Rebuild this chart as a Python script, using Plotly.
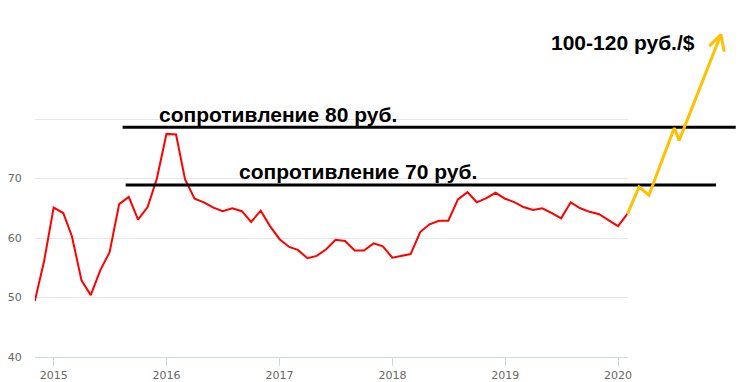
import pandas as pd
import plotly.graph_objects as go

# ---- data ----
months = pd.date_range("2014-11-01", "2020-02-01", freq="MS")
usd_rub = [49.4, 56.1, 65.1, 64.2, 60.3, 52.9, 50.4, 54.6, 57.6, 65.7, 66.9, 63.1,
           65.2, 70.0, 77.5, 77.4, 69.9, 66.6, 66.0, 65.1, 64.5, 65.0, 64.5, 62.7,
           64.6, 62.0, 59.8, 58.5, 58.0, 56.6, 57.0, 58.1, 59.7, 59.5, 57.9, 57.9,
           59.1, 58.6, 56.7, 57.0, 57.3, 61.0, 62.3, 62.9, 62.9, 66.5, 67.7, 66.0,
           66.7, 67.6, 66.6, 66.0, 65.2, 64.7, 65.0, 64.2, 63.3, 66.0, 65.0, 64.4,
           64.0, 63.0, 62.0, 64.1]

forecast_dates = ["2020-02-01", "2020-03-09", "2020-04-10", "2020-07-01", "2020-07-17", "2020-11-29"]
forecast_vals = [64.1, 68.6, 67.2, 78.5, 76.4, 94.2]

res_levels = [78.6, 68.9]
res_starts = ["2015-08-12", "2015-08-22"]
res_ends = ["2021-01-16", "2020-11-13"]
res_labels = ["сопротивление 80 руб.", "сопротивление 70 руб."]
target_label = "100-120 руб./$"

year_ticks = ["2015-01-01", "2016-01-01", "2017-01-01", "2018-01-01", "2019-01-01", "2020-01-01"]
year_labels = ["2015", "2016", "2017", "2018", "2019", "2020"]
y_ticks = [40, 50, 60, 70, 80]
y_labels = ["40", "50", "60", "70", ""]

# ---- geometry of the canvas ----
W, H = 740, 382
ML, MB = 0, 24
plot_left, plot_right = 35, 631
x0, x1 = pd.Timestamp("2014-11-01"), pd.Timestamp("2020-02-01")
ms_per_px = (x1 - x0) / (plot_right - plot_left)
x2_range = [x0 - plot_left * ms_per_px, x0 + (W - plot_left) * ms_per_px]
y_range = [40, 100]
px_per_unit = (H - MB) / (y_range[1] - y_range[0])

fig = go.Figure()

fig.add_trace(go.Scatter(x=months, y=usd_rub, mode="lines",
                         line=dict(color="#ff0000", width=2),
                         xaxis="x", yaxis="y", hoverinfo="skip"))

for lvl, s, e in zip(res_levels, res_starts, res_ends):
    fig.add_trace(go.Scatter(x=[s, e], y=[lvl, lvl], mode="lines",
                             line=dict(color="#000000", width=3),
                             xaxis="x2", yaxis="y2", hoverinfo="skip"))

fig.add_trace(go.Scatter(x=forecast_dates, y=forecast_vals, mode="lines",
                         line=dict(color="#FFC000", width=3),
                         xaxis="x2", yaxis="y2", hoverinfo="skip"))

# open arrow head at the end of the forecast path
tip_t = pd.Timestamp(forecast_dates[-1])
tip_v = forecast_vals[-1]
arms = [(-11.7, 11.7), (3.3, 17.3)]  # pixel offsets (right, down)
head_x = [tip_t + arms[0][0] * ms_per_px, tip_t, tip_t + arms[1][0] * ms_per_px]
head_y = [tip_v - arms[0][1] / px_per_unit, tip_v, tip_v - arms[1][1] / px_per_unit]
fig.add_trace(go.Scatter(x=head_x, y=head_y, mode="lines",
                         line=dict(color="#FFC000", width=3),
                         xaxis="x2", yaxis="y2", hoverinfo="skip"))

tick_font = dict(family="DejaVu Sans", size=11, color="#666666")

fig.update_layout(
    width=W, height=H,
    margin=dict(l=ML, r=0, t=0, b=MB, pad=0),
    paper_bgcolor="white", plot_bgcolor="rgba(0,0,0,0)",
    showlegend=False,
    xaxis=dict(type="date", domain=[plot_left / W, plot_right / W], range=[x0, x1],
               tickvals=year_ticks, ticktext=year_labels, showgrid=False,
               showline=True, linecolor="#ccd6eb", linewidth=1,
               ticks="outside", ticklen=8, tickcolor="#ccd6eb", tickwidth=1,
               tickfont=tick_font, zeroline=False, anchor="y", fixedrange=True),
    yaxis=dict(range=y_range, domain=[0, 1], tickvals=y_ticks, ticktext=y_labels,
               showgrid=True, gridcolor="#e6e6e6", gridwidth=1, showline=False,
               zeroline=False, ticks="", tickfont=tick_font, ticklabelstandoff=12,
               anchor="x", fixedrange=True),
    xaxis2=dict(type="date", domain=[0, 1], range=x2_range, visible=False,
                anchor="y2", fixedrange=True),
    yaxis2=dict(range=y_range, domain=[0, 1], visible=False, anchor="x2",
                fixedrange=True),
)

ann_font = dict(family="Liberation Sans", size=21, color="#000000", weight="bold")
plot_h = H - MB
for label, px, py in [(res_labels[0], 158, 115), (res_labels[1], 238, 172), (target_label, 552, 43)]:
    fig.add_annotation(text=label, xref="paper", yref="paper",
                       x=px / W, y=(plot_h - py) / plot_h,
                       xanchor="left", yanchor="middle", showarrow=False,
                       font=ann_font)

fig.write_html("out.html")
